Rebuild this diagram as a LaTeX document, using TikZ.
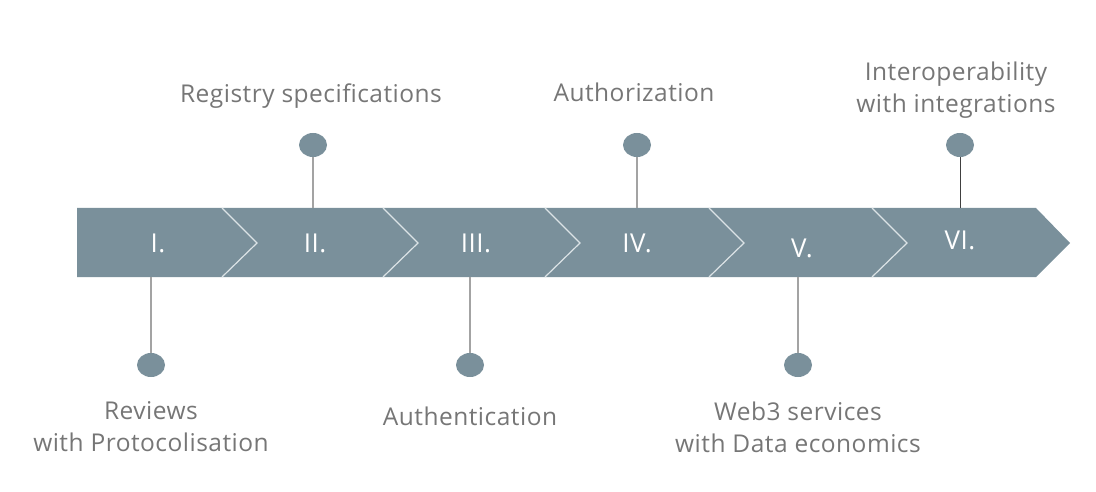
\documentclass[tikz,border=0pt]{standalone}
\usepackage{fontspec}
\setmainfont{Open Sans}[LetterSpace=2]
\usepackage{tikz}
\usetikzlibrary{shapes.geometric}
\definecolor{bandgray}{HTML}{7A909B}
\definecolor{textgray}{HTML}{767676}
\definecolor{stemgray}{HTML}{A3A3A3}
\definecolor{notchgray}{HTML}{DCE3E6}

\begin{document}
\begin{tikzpicture}[x=1pt,y=-1pt,
  dot/.style={ellipse,fill=bandgray,minimum width=28pt,minimum height=24pt,inner sep=0pt},
  roman/.style={text=white,font=\fontsize{26}{30}\selectfont},
  label/.style={text=textgray,align=center,font=\fontsize{24.5}{32}\selectfont},
  stem/.style={draw=stemgray,line width=1.5pt}]

  \useasboundingbox (0,0) rectangle (1096,492);

  % band with the notches
  \fill[bandgray] (77,208) -- (1036,208) -- (1070,243) -- (1036,277) -- (77,277) -- cycle;
  \foreach \x in {222,383,545,709,872}
    \draw[notchgray,line width=1.2pt] (\x,208) -- (\x+35,243) -- (\x,277);

  \node[roman] (s1) at (158,243) {I.};
  \node[roman] (s2) at (315,243) {II.};
  \node[roman] (s3) at (476,243) {III.};
  \node[roman] (s4) at (637,243) {IV.};
  \node[roman] (s5) at (802,248) {V.};
  \node[roman] (s6) at (960,240) {VI.};

  \coordinate (b1) at (151,277);
  \coordinate (b2) at (313,208);
  \coordinate (b3) at (470,277);
  \coordinate (b4) at (637,208);
  \coordinate (b5) at (798,277);
  \coordinate (b6) at (960,208);

  \node[dot] (d1) at (151,365) {};
  \node[dot] (d2) at (313,145) {};
  \node[dot] (d3) at (470,365) {};
  \node[dot] (d4) at (637,145) {};
  \node[dot] (d5) at (798,365) {};
  \node[dot] (d6) at (960,145) {};

  \node[label] (l1) at (151,427) {Reviews\\with Protocolisation};
  \node[label] (l2) at (311,96) {Registry specifications};
  \node[label] (l3) at (470,416) {Authentication};
  \node[label] (l4) at (634,92) {Authorization};
  \node[label] (l5) at (798,427) {Web3 services\\with Data economics};
  \node[label] (l6) at (956,90.5) {Interoperability\\with integrations};

  \path[stem]
    (d1) edge (b1)
    (d2) edge (b2)
    (d3) edge (b3)
    (d4) edge (b4)
    (d5) edge (b5);
  \path[draw=black!75,line width=1pt] (d6) edge (b6);
\end{tikzpicture}
\end{document}
